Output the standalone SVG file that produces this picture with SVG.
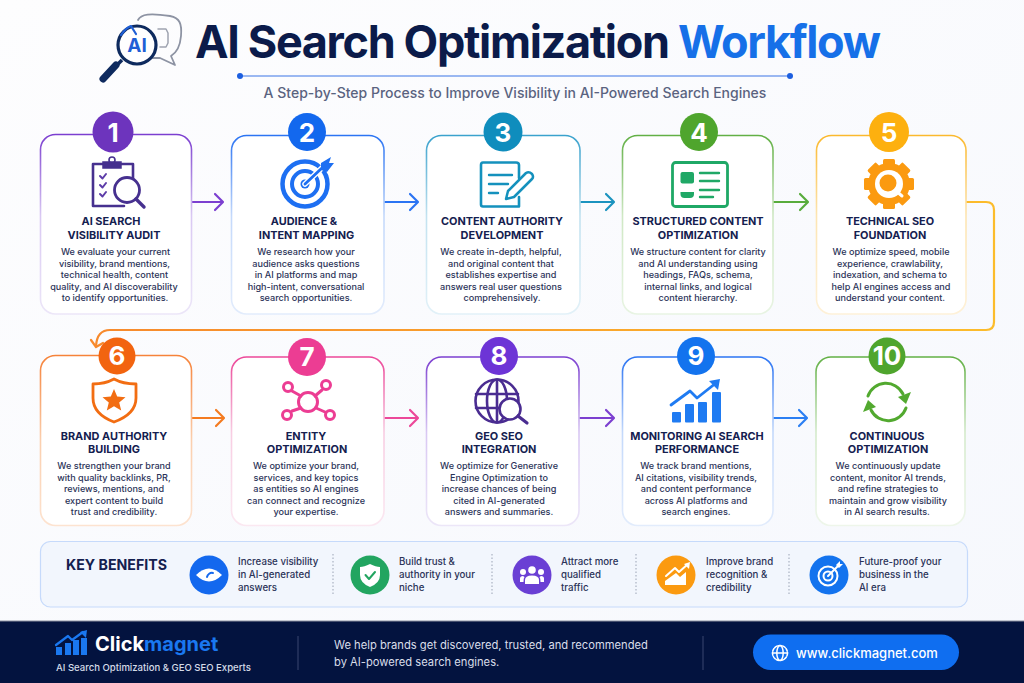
<svg xmlns="http://www.w3.org/2000/svg" width="1024" height="683" viewBox="0 0 1024 683">
<style>
text{font-family:Inter,"Noto Sans","Liberation Sans",sans-serif}
.t{font-size:10.9px;font-weight:700;fill:#14204f;text-anchor:middle}
.b{font-size:9.1px;font-weight:500;fill:#2b3358;text-anchor:middle}
.n{font-size:26px;font-weight:700;fill:#fff;text-anchor:middle}
.k{font-size:9.7px;font-weight:500;fill:#2b3358}
.card{fill:#fff;stroke-width:1.6}
.c{fill:none;stroke-width:2.2;stroke-linecap:round;stroke-linejoin:round}
.ic{fill:none;stroke-linecap:round;stroke-linejoin:round}
.sep{stroke:#9aa3b5;stroke-width:1;stroke-dasharray:1.5 2}
</style>
<defs>
<linearGradient id="bg" x1="0" y1="0" x2="1" y2="1"><stop offset="0" stop-color="#fdfdfe"/><stop offset="1" stop-color="#f6f8fd"/></linearGradient>
<linearGradient id="g1" x1="0" y1="0" x2="0" y2="1"><stop offset="0" stop-color="#7c3fd0"/><stop offset=".45" stop-color="#d9c8f3"/><stop offset="1" stop-color="#ece6f8"/></linearGradient>
<linearGradient id="g2" x1="0" y1="0" x2="0" y2="1"><stop offset="0" stop-color="#2b74f3"/><stop offset=".45" stop-color="#c4d9fb"/><stop offset="1" stop-color="#e2ecfc"/></linearGradient>
<linearGradient id="g3" x1="0" y1="0" x2="0" y2="1"><stop offset="0" stop-color="#3aa2cd"/><stop offset=".45" stop-color="#c2e2f0"/><stop offset="1" stop-color="#e2f1f8"/></linearGradient>
<linearGradient id="g4" x1="0" y1="0" x2="0" y2="1"><stop offset="0" stop-color="#62b045"/><stop offset=".45" stop-color="#cfe8c4"/><stop offset="1" stop-color="#e8f4e3"/></linearGradient>
<linearGradient id="g5" x1="0" y1="0" x2="0" y2="1"><stop offset="0" stop-color="#fbb92e"/><stop offset=".45" stop-color="#fde5b2"/><stop offset="1" stop-color="#fef1d8"/></linearGradient>
<linearGradient id="g6" x1="0" y1="0" x2="0" y2="1"><stop offset="0" stop-color="#f6833a"/><stop offset=".5" stop-color="#fbcfae"/><stop offset="1" stop-color="#fde3d0"/></linearGradient>
<linearGradient id="g7" x1="0" y1="0" x2="0" y2="1"><stop offset="0" stop-color="#ec4899"/><stop offset=".45" stop-color="#f8cde2"/><stop offset="1" stop-color="#fbe8f1"/></linearGradient>
<linearGradient id="g10" x1="0" y1="0" x2="0" y2="1"><stop offset="0" stop-color="#62b045"/><stop offset=".45" stop-color="#d4eacb"/><stop offset="1" stop-color="#eef6ea"/></linearGradient>
<linearGradient id="long" gradientUnits="userSpaceOnUse" x1="100" y1="0" x2="994" y2="0"><stop offset="0" stop-color="#f78a2d"/><stop offset="1" stop-color="#fcbc2b"/></linearGradient>
</defs>
<rect width="1024" height="683" fill="url(#bg)"/>

<g id="header">
<path class="ic" d="M138 20C141 14 150 13 170 16C180 18 182 24 181 36C180 48 176 53 171 56L175 65L160 58L150 58" stroke="#8d93a3" stroke-width="1.8"/>
<path class="ic" d="M158 29H166L168 33V43L166 47H160" stroke="#9ea3b0" stroke-width="1.5"/>
<circle cx="137" cy="45" r="19" fill="#fff" stroke="#0e2a5e" stroke-width="3.2"/>
<path class="ic" d="M121 35C125 29 128 27 131 26L136 34" stroke="#1f5fd6" stroke-width="2.2"/>
<text x="137" y="52" font-size="19" font-weight="700" fill="#1f5fd6" text-anchor="middle">AI</text>
<path d="M122 60L117 65" stroke="#0e2a5e" stroke-width="3.5"/>
<path d="M116 65L103 79" stroke="#0e2a5e" stroke-width="7" stroke-linecap="round"/>
<text x="195" y="57.500" font-size="45" font-weight="700" letter-spacing="-1.350" fill="#0b1b4a">AI Search Optimization <tspan fill="#1670e8">Workflow</tspan></text>
<path d="M240 76H790" stroke="#3b74e6" stroke-width="1.2"/>
<circle cx="240" cy="76" r="3" fill="#1d5fe0"/><circle cx="790" cy="76" r="3" fill="#1d5fe0"/>
<text x="515" y="98" font-size="14" font-weight="500" fill="#5a6380" text-anchor="middle">A Step-by-Step Process to Improve Visibility in AI-Powered Search Engines</text>
</g>

<g id="connectors">
<path class="c" stroke="#7c3fd0" d="M192 202H222M215 194L223 202L215 210"/>
<path class="c" stroke="#2b74f3" d="M385 202H417M410 194L418 202L410 210"/>
<path class="c" stroke="#1b93bf" d="M580 202H613M606 194L614 202L606 210"/>
<path class="c" stroke="#58ac3c" d="M773 202H807M800 194L808 202L800 210"/>
<path class="c" stroke="url(#long)" d="M966 202H986Q994 202 994 210V322Q994 330 986 330H110Q97 330 96 346"/>
<path class="c" stroke="#f78a2d" d="M91 340L96 347L103 343"/>
<path class="c" stroke="#f47b20" d="M192 418H223M216 410L224 418L216 426"/>
<path class="c" stroke="#ec4899" d="M385 418H417M410 410L418 418L410 426"/>
<path class="c" stroke="#7c3fd0" d="M580 418H613M606 410L614 418L606 426"/>
<path class="c" stroke="#2b7ff3" d="M773 418H806M799 410L807 418L799 426"/>
</g>

<g id="node1">
<rect class="card" x="40.500" y="134.500" width="151" height="179.500" rx="15" stroke="url(#g1)"/>
<circle cx="113" cy="132" r="20.500" fill="#6d34bd"/><text class="n" x="113" y="141.500">1</text>
<path class="ic" d="M93 164H133V178M124 206H93V164" stroke="#46308f" stroke-width="2.600"/>
<path d="M103 162H121V168H103Z" fill="#46308f" stroke="#46308f" stroke-width="1.500"/><circle cx="112" cy="160" r="3" fill="none" stroke="#46308f" stroke-width="1.600"/>
<path class="ic" d="M100 176L102.500 178.500L106 174M100 185L102.500 187.500L106 183M100 194L102.500 196.500L106 192" stroke="#5d3ca8" stroke-width="2"/>
<circle cx="127" cy="190" r="12.500" fill="#fff" stroke="#46308f" stroke-width="2.800"/><path class="ic" d="M136 199L144 207" stroke="#46308f" stroke-width="3.400"/>
<text class="t" x="111" y="225">AI SEARCH</text><text class="t" x="114" y="238.500">VISIBILITY AUDIT</text>
<text class="b"><tspan x="115.500" y="255">We evaluate your current</tspan><tspan x="114.500" y="266.500">visibility, brand mentions,</tspan><tspan x="114.500" y="278">technical health, content</tspan><tspan x="114" y="289.500">quality, and AI discoverability</tspan><tspan x="115" y="301">to identify opportunities.</tspan></text>
</g>

<g id="node2">
<rect class="card" x="231.500" y="135.500" width="152.500" height="178.500" rx="15" stroke="url(#g2)"/>
<circle cx="307" cy="132" r="19" fill="#1368ee"/><text class="n" x="307" y="141.500">2</text>
<circle class="ic" cx="305" cy="184" r="22.500" stroke="#1d6ff2" stroke-width="4.500"/>
<circle class="ic" cx="305" cy="184" r="13" stroke="#1d6ff2" stroke-width="4"/>
<circle cx="305" cy="184" r="4.500" fill="#1d6ff2"/>
<path class="ic" d="M305 184L324 166" stroke="#fff" stroke-width="5.500"/>
<path class="ic" d="M305 184L323 167" stroke="#1d6ff2" stroke-width="2.800"/>
<path d="M321 163L331 157L329 163L334 163L327 172L321 170Z" fill="#1d6ff2"/>
<text class="t" x="304" y="225">AUDIENCE &amp;</text><text class="t" x="306.500" y="238.500">INTENT MAPPING</text>
<text class="b"><tspan x="306" y="255">We research how your</tspan><tspan x="306" y="266.500">audience asks questions</tspan><tspan x="306" y="278">in AI platforms and map</tspan><tspan x="306" y="289.500">high-intent, conversational</tspan><tspan x="306" y="301">search opportunities.</tspan></text>
</g>

<g id="node3">
<rect class="card" x="426.500" y="135.500" width="153.500" height="178.500" rx="15" stroke="url(#g3)"/>
<circle cx="503" cy="132" r="19.500" fill="#0f8dbd"/><text class="n" x="503" y="141.500">3</text>
<path class="ic" d="M519 178V165Q519 162.500 516 162.500H483Q481 162.500 481 165V204.500Q481 206.500 483 206.500H519V197" stroke="#1491bd" stroke-width="2.600"/>
<path class="ic" d="M489 175H512M489 184H508M489 193H498" stroke="#1491bd" stroke-width="2.400"/>
<path class="ic" d="M506 199L508 191L526 173Q529 171 532 174Q534 177 532 179L514 197Z" stroke="#1491bd" stroke-width="2.500" fill="#fff"/>
<text class="t" x="502" y="225">CONTENT AUTHORITY</text><text class="t" x="502" y="238.500">DEVELOPMENT</text>
<text class="b"><tspan x="501" y="255">We create in-depth, helpful,</tspan><tspan x="501" y="266.500">and original content that</tspan><tspan x="501" y="278">establishes expertise and</tspan><tspan x="501" y="289.500">answers real user questions</tspan><tspan x="502" y="301">comprehensively.</tspan></text>
</g>

<g id="node4">
<rect class="card" x="622.500" y="135.500" width="150.500" height="178.500" rx="15" stroke="url(#g4)"/>
<circle cx="699" cy="132" r="19" fill="#4fa52d"/><text class="n" x="699" y="141.500">4</text>
<rect class="ic" x="672.500" y="162.500" width="55" height="44" rx="3" stroke="#1fa866" stroke-width="2.800"/>
<rect x="680.500" y="172" width="13.500" height="11.500" rx="2" fill="#1fa866"/>
<path d="M680.500 192H694V194Q694 198 690 198H684.500Q680.500 198 680.500 194Z" fill="#1fa866"/>
<path class="ic" d="M700 173H719M700 181H719M700 190H719M700 197H713" stroke="#1fa866" stroke-width="2.400"/>
<text class="t" x="698" y="225">STRUCTURED CONTENT</text><text class="t" x="698" y="238.500">OPTIMIZATION</text>
<text class="b"><tspan x="698" y="255">We structure content for clarity</tspan><tspan x="698" y="266.500">and AI understanding using</tspan><tspan x="698" y="278">headings, FAQs, schema,</tspan><tspan x="698" y="289.500">internal links, and logical</tspan><tspan x="698" y="301">content hierarchy.</tspan></text>
</g>

<g id="node5">
<rect class="card" x="816.500" y="135.500" width="149.500" height="178.500" rx="15" stroke="url(#g5)"/>
<circle cx="889" cy="132" r="20" fill="#fdb00f"/><text class="n" x="889" y="141.500">5</text>
<g fill="#fb9a10">
<circle cx="889" cy="184" r="21"/>
<rect x="883" y="159" width="12" height="50" rx="1.500"/>
<rect x="883" y="159" width="12" height="50" rx="1.500" transform="rotate(45 889 184)"/>
<rect x="883" y="159" width="12" height="50" rx="1.500" transform="rotate(90 889 184)"/>
<rect x="883" y="159" width="12" height="50" rx="1.500" transform="rotate(135 889 184)"/>
</g>
<circle cx="889" cy="184" r="14" fill="#fff"/><circle cx="888" cy="183" r="8.500" fill="#fb9a10"/>
<path d="M895 190L902 196" stroke="#fff" stroke-width="3" stroke-linecap="round"/>
<text class="t" x="890" y="225">TECHNICAL SEO</text><text class="t" x="890" y="238.500">FOUNDATION</text>
<text class="b"><tspan x="891" y="255">We optimize speed, mobile</tspan><tspan x="890" y="266.500">experience, crawlability,</tspan><tspan x="890" y="278">indexation, and schema to</tspan><tspan x="891" y="289.500">help AI engines access and</tspan><tspan x="890" y="301">understand your content.</tspan></text>
</g>

<g id="node6">
<rect class="card" x="40.500" y="355.500" width="151" height="170" rx="15" stroke="url(#g6)"/>
<circle cx="117" cy="356" r="18.500" fill="#f2640f"/><text class="n" x="117" y="365">6</text>
<path class="ic" d="M93 384Q105 384 114 379Q123 384 136 384V398Q136 414 114 422Q93 414 93 398Z" stroke="#f26d12" stroke-width="2.800"/>
<path d="M114 389L117.200 396.500L125.500 397.200L119.200 402.600L121.200 410.600L114 406.300L106.800 410.600L108.800 402.600L102.500 397.200L110.800 396.500Z" fill="#f26d12"/>
<text class="t" x="114" y="439.500">BRAND AUTHORITY</text><text class="t" x="114" y="452.500">BUILDING</text>
<text class="b"><tspan x="114" y="469">We strengthen your brand</tspan><tspan x="114" y="480.500">with quality backlinks, PR,</tspan><tspan x="114" y="492">reviews, mentions, and</tspan><tspan x="114" y="503.500">expert content to build</tspan><tspan x="114" y="515">trust and credibility.</tspan></text>
</g>

<g id="node7">
<rect class="card" x="231.500" y="357" width="152.500" height="168.500" rx="15" stroke="url(#g7)"/>
<circle cx="307" cy="357" r="19" fill="#ec3d93"/><text class="n" x="307" y="366">7</text>
<g class="ic" stroke="#ec3d93" stroke-width="3">
<path d="M292 391L301 396M322 390L315 396M292 411L301 408M325 412L316 408"/>
<circle cx="308" cy="402" r="9.500"/><circle cx="288" cy="387" r="4.500"/><circle cx="326" cy="385" r="4.500"/><circle cx="287" cy="415" r="4.500"/><circle cx="330" cy="415" r="4.500"/>
</g>
<text class="t" x="306" y="439.500">ENTITY</text><text class="t" x="307" y="452.500">OPTIMIZATION</text>
<text class="b"><tspan x="306" y="469">We optimize your brand,</tspan><tspan x="306" y="480.500">services, and key topics</tspan><tspan x="306" y="492">as entities so AI engines</tspan><tspan x="306" y="503.500">can connect and recognize</tspan><tspan x="306" y="515">your expertise.</tspan></text>
</g>

<g id="node8">
<rect class="card" x="426.500" y="357" width="152.500" height="168.500" rx="15" stroke="url(#g1)"/>
<circle cx="499" cy="356" r="19" fill="#6d34d6"/><text class="n" x="499" y="365">8</text>
<g class="ic" stroke="#4a2c91" stroke-width="2.600">
<circle cx="497" cy="401" r="21.500"/><ellipse cx="497" cy="401" rx="10" ry="21.500"/><path d="M497 380V422M476 394H518M476 408H518"/>
</g>
<circle cx="510" cy="409" r="10.500" fill="#fff" stroke="#4a2c91" stroke-width="2.600"/><path class="ic" d="M518 416L527 423" stroke="#4a2c91" stroke-width="3.200"/>
<text class="t" x="499" y="439.500">GEO SEO</text><text class="t" x="499" y="452.500">INTEGRATION</text>
<text class="b"><tspan x="499" y="469">We optimize for Generative</tspan><tspan x="499" y="480.500">Engine Optimization to</tspan><tspan x="499" y="492">increase chances of being</tspan><tspan x="499" y="503.500">cited in AI-generated</tspan><tspan x="499" y="515">answers and summaries.</tspan></text>
</g>

<g id="node9">
<rect class="card" x="622.500" y="357" width="150.500" height="168.500" rx="15" stroke="url(#g2)"/>
<circle cx="696" cy="356" r="19" fill="#1373ee"/><text class="n" x="696" y="365">9</text>
<g fill="#1f7bf2"><rect x="672" y="412" width="9" height="10.500" rx="1"/><rect x="685" y="404" width="9" height="18.500" rx="1"/><rect x="698" y="402" width="9" height="20.500" rx="1"/><rect x="712" y="392" width="9" height="30.500" rx="1"/></g>
<path class="ic" d="M671 405L690 391L697 398L716 383" stroke="#1f7bf2" stroke-width="2.800"/>
<path d="M720 379L718 390L709 381Z" fill="#1f7bf2"/>
<text class="t" x="697" y="439.500">MONITORING AI SEARCH</text><text class="t" x="697" y="452.500">PERFORMANCE</text>
<text class="b"><tspan x="696" y="469">We track brand mentions,</tspan><tspan x="696" y="480.500">AI citations, visibility trends,</tspan><tspan x="696" y="492">and content performance</tspan><tspan x="696" y="503.500">across AI platforms and</tspan><tspan x="696" y="515">search engines.</tspan></text>
</g>

<g id="node10">
<rect class="card" x="816" y="357" width="149" height="168.500" rx="15" stroke="url(#g10)"/>
<circle cx="887" cy="356" r="18.500" fill="#4fa52d"/><text class="n" x="887" y="365" font-size="25">10</text>
<path class="ic" d="M868 396A19 19 0 0 1 903 394M906 408A19 19 0 0 1 871 410" stroke="#52a92f" stroke-width="3"/>
<path d="M911 392L906 404L898 397Z" fill="#52a92f"/><path d="M863 412L868 400L876 407Z" fill="#52a92f"/>
<text class="t" x="887" y="439.500">CONTINUOUS</text><text class="t" x="888" y="452.500">OPTIMIZATION</text>
<text class="b"><tspan x="888" y="469">We continuously update</tspan><tspan x="888" y="480.500">content, monitor AI trends,</tspan><tspan x="888" y="492">and refine strategies to</tspan><tspan x="888" y="503.500">maintain and grow visibility</tspan><tspan x="887" y="515">in AI search results.</tspan></text>
</g>

<g id="benefits">
<rect x="40.500" y="541.500" width="927" height="65.500" rx="10" fill="#f2f6fd" stroke="#c6dafb" stroke-width="1.200"/>
<text x="66" y="570" font-size="14.200" font-weight="700" fill="#14204f">KEY BENEFITS</text>
<path class="sep" d="M333 554V595M492 554V595M636 554V595M789 554V595"/>
<circle cx="209" cy="575" r="19.500" fill="#1368ee"/>
<path d="M196 575Q209 562 222 575Q209 588 196 575Z" fill="#fff"/><path class="ic" d="M207 577A5 5 0 0 1 213 573" stroke="#1368ee" stroke-width="2"/>
<text class="k"><tspan x="238" y="564.500">Increase visibility</tspan><tspan x="238" y="577.500">in AI-generated</tspan><tspan x="238" y="590.500">answers</tspan></text>
<circle cx="370" cy="575" r="19.500" fill="#22a560"/>
<path d="M370 564Q376 567 380 567V575Q380 583 370 587Q360 583 360 575V567Q364 567 370 564Z" fill="#fff"/><path class="ic" d="M365.500 575L369 579L375 572" stroke="#22a560" stroke-width="2"/>
<text class="k"><tspan x="399" y="564.500">Build trust &amp;</tspan><tspan x="399" y="577.500">authority in your</tspan><tspan x="399" y="590.500">niche</tspan></text>
<circle cx="532" cy="575" r="19.500" fill="#6a3fd4"/>
<g fill="#fff"><circle cx="532" cy="570" r="3.800"/><circle cx="523" cy="572" r="3"/><circle cx="541" cy="572" r="3"/><path d="M525 584V580Q525 575.500 532 575.500Q539 575.500 539 580V584Z"/><path d="M520 582V578.500Q520 576 523 576L524.500 577Q523.500 578 523.500 582ZM544 582V578.500Q544 576 541 576L539.500 577Q540.500 578 540.500 582Z"/></g>
<text class="k"><tspan x="561" y="564.500">Attract more</tspan><tspan x="561" y="577.500">qualified</tspan><tspan x="561" y="590.500">traffic</tspan></text>
<circle cx="676" cy="575" r="19.500" fill="#fb9a10"/>
<path d="M665 585V581L676 573L680 577L686 572V585Z" fill="#fff"/><path class="ic" d="M666 576L675 568L679 572L688 564" stroke="#fff" stroke-width="2"/><path d="M690 562L689 569L684 564Z" fill="#fff"/>
<text class="k"><tspan x="706" y="564.500">Improve brand</tspan><tspan x="706" y="577.500">recognition &amp;</tspan><tspan x="706" y="590.500">credibility</tspan></text>
<circle cx="829" cy="575" r="19.500" fill="#1373ee"/>
<g class="ic" stroke="#fff" stroke-width="2"><circle cx="828" cy="576" r="9.500"/><circle cx="828" cy="576" r="4.500"/><path d="M828 576L838 566"/></g><path d="M836 565L840 561L840 564L843 564L839 568Z" fill="#fff"/>
<text class="k"><tspan x="859" y="564.500">Future-proof your</tspan><tspan x="859" y="577.500">business in the</tspan><tspan x="859" y="590.500">AI era</tspan></text>
</g>

<g id="footer">
<rect y="621" width="1024" height="62" fill="#03133f"/>
<path d="M0 621H1024" stroke="#8b90a0" stroke-width="1"/>
<g fill="#1a78f0"><rect x="56" y="647" width="6" height="8"/><rect x="65" y="643" width="6" height="12"/><rect x="73" y="640" width="6" height="15"/><rect x="81" y="638" width="6" height="17"/></g>
<path class="ic" d="M56 645L68 636L72 640L83 632" stroke="#1a78f0" stroke-width="2.200"/><path d="M87 630L86 638L80 632Z" fill="#1a78f0"/>
<text x="95" y="651" font-size="20" font-weight="700" fill="#fff">Click<tspan fill="#1a78f0">magnet</tspan></text>
<text x="56" y="670.500" font-size="9.550" font-weight="500" fill="#d5dbe8">AI Search Optimization &amp; GEO SEO Experts</text>
<path d="M298 636V670M703 636V670" stroke="#3a4770" stroke-width="1"/>
<text font-size="11.200" fill="#d9deea"><tspan x="334" y="649">We help brands get discovered, trusted, and recommended</tspan><tspan x="334" y="665.500">by AI-powered search engines.</tspan></text>
<rect x="753" y="634.500" width="206" height="35.500" rx="17.750" fill="#0f6ef0"/>
<g class="ic" stroke="#fff" stroke-width="1.500"><circle cx="780" cy="653" r="7.500" stroke-dasharray="3 1.200"/><ellipse cx="780" cy="653" rx="3.200" ry="7.500"/><path d="M772.500 653H787.500"/></g>
<text x="796" y="658" font-size="13" font-weight="500" fill="#fff">www.clickmagnet.com</text>
</g>
</svg>
